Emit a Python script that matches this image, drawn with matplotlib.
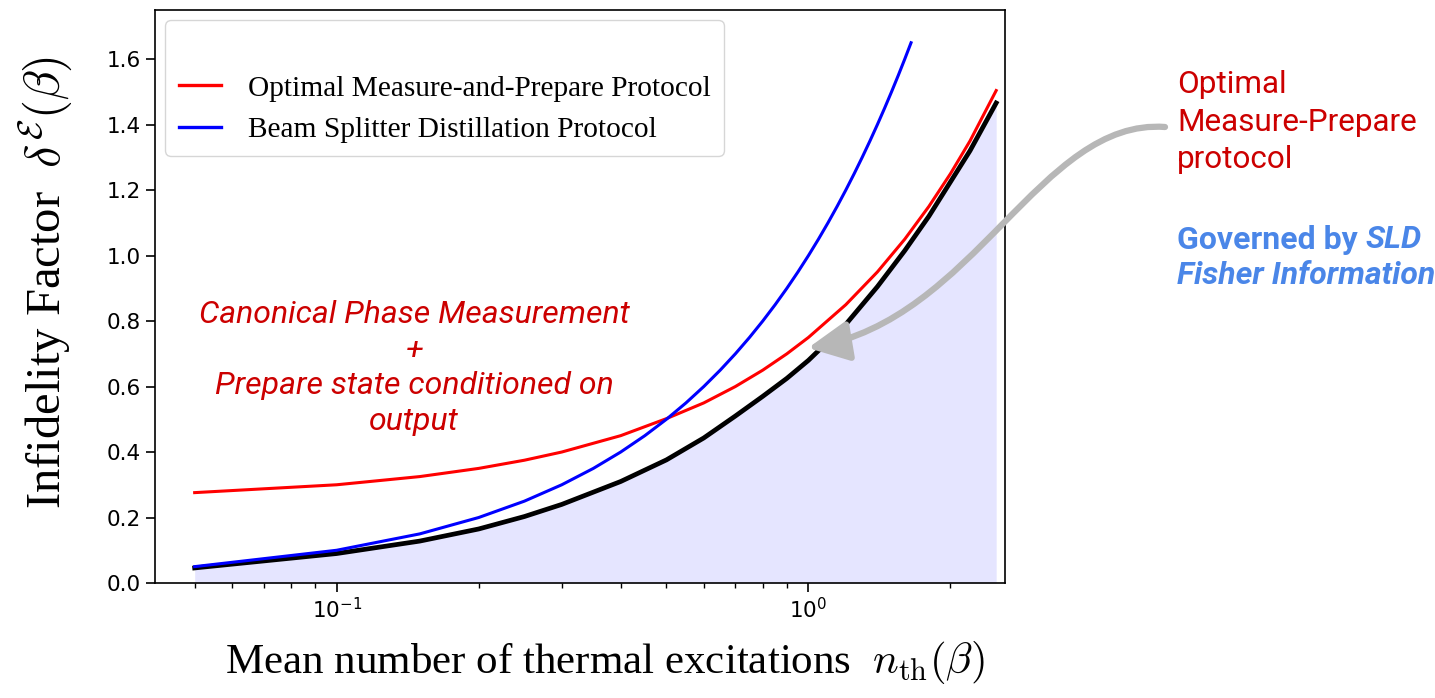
import numpy as np
import matplotlib.pyplot as plt
from matplotlib.lines import Line2D
from matplotlib.patches import FancyArrowPatch
from matplotlib.path import Path

n_th = [0.05, 0.10, 0.15, 0.20, 0.25, 0.30, 0.40, 0.50, 0.60, 0.70, 0.80,
        0.90, 1.00, 1.20, 1.40, 1.60, 1.80, 2.00, 2.20, 2.50]
optimal_mp = [0.276, 0.300, 0.325, 0.350, 0.375, 0.400, 0.450, 0.502, 0.550,
              0.600, 0.650, 0.700, 0.750, 0.850, 0.950, 1.050, 1.150, 1.250,
              1.350, 1.504]
lower_bound = [0.046, 0.090, 0.128, 0.165, 0.203, 0.240, 0.310, 0.376, 0.443,
               0.510, 0.570, 0.625, 0.680, 0.790, 0.905, 1.015, 1.120, 1.225,
               1.320, 1.466]

n_bs = [0.05, 0.10, 0.15, 0.20, 0.25, 0.30, 0.35, 0.40, 0.45, 0.50, 0.55,
        0.60, 0.65, 0.70, 0.75, 0.80, 0.85, 0.90, 0.95, 1.00, 1.05, 1.10,
        1.15, 1.20, 1.25, 1.30, 1.35, 1.40, 1.45, 1.50, 1.55, 1.60, 1.65]
beam_splitter = [0.05, 0.10, 0.15, 0.20, 0.25, 0.30, 0.35, 0.40, 0.45, 0.50,
                 0.55, 0.60, 0.65, 0.70, 0.75, 0.80, 0.85, 0.90, 0.95, 1.00,
                 1.05, 1.10, 1.15, 1.20, 1.25, 1.30, 1.35, 1.40, 1.45, 1.50,
                 1.55, 1.60, 1.65]

W, H = 1435, 698


def fig_xy(x, y):
    # pixel position (from top left) -> figure fraction
    return x / W, 1 - y / H


fig = plt.figure(figsize=(W / 100, H / 100), dpi=100)
ax = fig.add_axes([155 / W, 1 - 583 / H, 850 / W, 573 / H])

ax.fill_between(n_th, 0, lower_bound, color="blue", alpha=0.1, lw=0)
ax.plot(n_th, lower_bound, color="black", lw=3.4)
ax.plot(n_th, optimal_mp, color="red", lw=2.2)
ax.plot(n_bs, beam_splitter, color="blue", lw=2.2)

ax.set_xscale("log")
ax.set_xlim(0.0412, 2.61)
ax.set_ylim(0, 1.75)
ax.set_yticks(np.arange(0, 1.61, 0.2))

for s in ax.spines.values():
    s.set_linewidth(1.2)
ax.tick_params(which="major", length=6.5, width=1.2, labelsize=15.5)
ax.tick_params(which="minor", length=3.5, width=1.0)

ax.set_xlabel(r"Mean number of thermal excitations  $n_{\rm th}(\beta)$",
              fontsize=31, family="Liberation Serif", math_fontfamily="cm")
ax.xaxis.set_label_coords(0.529, -0.097)
ax.set_ylabel(r"Infidelity Factor  $\delta^{\mathcal{E}}(\beta)$",
              fontsize=35, family="Liberation Serif", math_fontfamily="cm")
ax.yaxis.set_label_coords(-0.094, 0.524)

handles = [Line2D([], [], color="none"),
           Line2D([], [], color="red", lw=2.4),
           Line2D([], [], color="blue", lw=2.4)]
labels = [" ", "Optimal Measure-and-Prepare Protocol",
          "Beam Splitter Distillation Protocol"]
ax.legend(handles, labels, loc="upper left", handlelength=1.45,
          handletextpad=0.9, borderaxespad=0.35, labelspacing=0.5,
          borderpad=0.45,
          prop={"family": "Liberation Serif", "size": 21.2})

# annotation inside the axes
ax.text(0.305, 0.375,
        "Canonical Phase Measurement\n+\nPrepare state conditioned on\noutput",
        transform=ax.transAxes, ha="center", va="center", color="#cc0000",
        family="Roboto", style="italic", fontsize=23, linespacing=1.28)

# notes on the right
fig.text(*fig_xy(1177, 70), "Optimal\nMeasure-Prepare\nprotocol",
         ha="left", va="top", color="#cc0000", family="Roboto",
         fontsize=22.7, linespacing=1.38)

blue_note = "#4a86e8"
t1 = fig.text(*fig_xy(1177, 240), "Governed by ", ha="left", va="center",
              color=blue_note, family="Roboto", weight="bold", fontsize=23)
fig.canvas.draw()
bb = t1.get_window_extent()
fig.text(bb.x1 / W, 1 - 240 / H, "SLD", ha="left", va="center",
         color=blue_note, family="Roboto", weight="bold", style="italic",
         fontsize=23)
fig.text(*fig_xy(1177, 275), "Fisher Information", ha="left", va="center",
         color=blue_note, family="Roboto", weight="bold", style="italic",
         fontsize=23)

# grey curved arrow
verts = [fig_xy(1165, 127), fig_xy(1040, 118), fig_xy(975, 320),
         fig_xy(808, 348)]
codes = [Path.MOVETO, Path.CURVE4, Path.CURVE4, Path.CURVE4]
arrow = FancyArrowPatch(path=Path(verts, codes), transform=fig.transFigure,
                        arrowstyle="-|>,head_length=0.55,head_width=0.27",
                        mutation_scale=45, color="#b7b7b7", lw=4.5)
fig.patches.append(arrow)

fig.savefig("out.png", dpi=100)
